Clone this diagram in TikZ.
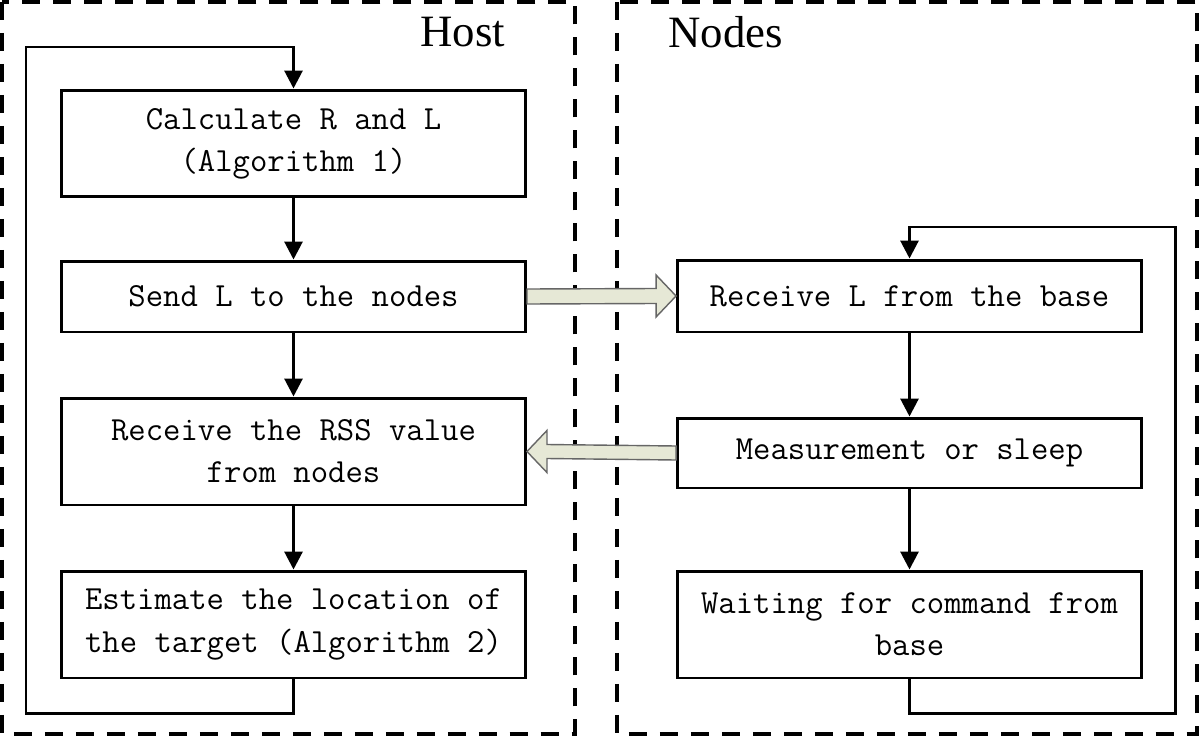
\documentclass[tikz,border=0pt]{standalone}
\usepackage{fontspec}
\newfontfamily\titlefont{Liberation Serif}
\usetikzlibrary
  {
    arrows.meta,              % triangle arrow heads
    calc,                     % offsets for the hollow arrows
    positioning,
  }

\begin{document}
\begin{tikzpicture}
    [
      x=0.02cm,
      y=-0.02cm,
      block/.style=
        {
          rectangle,
          draw=black,
          line width=1.7pt,
          minimum width=9.28cm,
          align=center,
          font=\ttfamily\fontsize{19.2}{24}\selectfont,
        },
      flow/.style=
        {
          draw=black,
          line width=1.7pt,
          -{Triangle[length=0.36cm,width=0.36cm]},
        },
      hollow/.style=
        {
          draw=black!60,
          fill=hollowfill,
          line width=0.8pt,
        },
      region/.style=
        {
          draw=black,
          line width=2.2pt,
          dash pattern=on 0.36cm off 0.26cm,
        },
      title/.style=
        {
          font=\titlefont\fontsize{25.5}{30}\selectfont,
          anchor=base west,
          inner sep=0pt,
        },
    ]
    \definecolor{hollowfill}{HTML}{E6E8D6}
    \useasboundingbox (0,0) rectangle (1200,737);

    % the two areas
    \draw[region] (2,2)   rectangle (575,734);
    \draw[region] (617,2) rectangle (1197,734);
    \node[title] (host)  at (420,46) {Host};
    \node[title] (nodes) at (668,48) {Nodes};

    % host side
    \node[block, minimum height=2.14cm] (calculate) at (293.5,143.5) {Calculate R and L\\(Algorithm 1)};
    \node[block, minimum height=1.42cm] (send)      at (293.5,296.5) {Send L to the nodes};
    \node[block, minimum height=2.14cm] (collect)   at (293.5,451.5) {Receive the RSS value\\from nodes};
    \node[block, minimum height=2.14cm] (estimate)  at (293.5,624.5) {Estimate the location of\\the target (Algorithm 2)};

    % node side
    \node[block, minimum height=1.44cm] (receive) at (909.5,296)   {Receive L from the base};
    \node[block, minimum height=1.40cm] (measure) at (909.5,453)   {Measurement or sleep};
    \node[block, minimum height=2.14cm] (wait)    at (909.5,624.5) {Waiting for command from\\base};

    \coordinate (host loop)  at (26,47);
    \coordinate (nodes loop) at (1175,227);

    \draw[flow] (calculate) -- (send);
    \draw[flow] (send)      -- (collect);
    \draw[flow] (collect)   -- (estimate);
    \draw[flow] (estimate.south) -- ++(0,34) -| (host loop) -| (calculate.north);

    \draw[flow] (receive) -- (measure);
    \draw[flow] (measure) -- (wait);
    \draw[flow] (wait.south) -- ++(0,34) -| (nodes loop) -| (receive.north);

    % messages between host and nodes
    \draw[hollow] ($(send.east)+(0,-7.5)$) -- ($(receive.west)+(-20,-7.5)$)
      -- ($(receive.west)+(-20,-21)$) -- (receive.west) -- ($(receive.west)+(-20,21)$)
      -- ($(receive.west)+(-20,7.5)$) -- ($(send.east)+(0,7.5)$) -- cycle;
    \draw[hollow] ($(measure.west)+(0,-7)$) -- ($(collect.east)+(20,-7)$)
      -- ($(collect.east)+(20,-21)$) -- (collect.east) -- ($(collect.east)+(20,21)$)
      -- ($(collect.east)+(20,7)$) -- ($(measure.west)+(0,7)$) -- cycle;
\end{tikzpicture}
\end{document}
